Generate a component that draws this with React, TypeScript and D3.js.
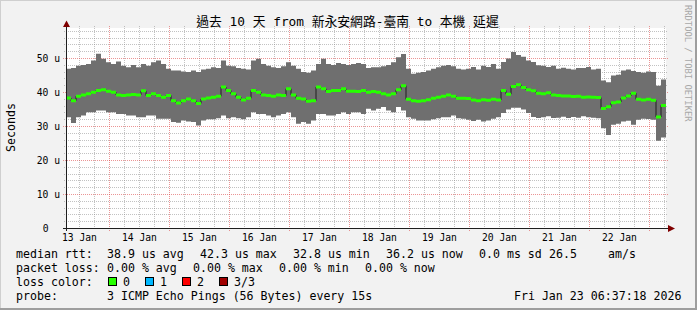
import React from 'react';
import * as d3 from 'd3';

const W = 697;
const H = 310;
const END = Date.UTC(2026, 0, 23, 6, 37, 18);
const START = END - 10 * 86400000;
const STEP = 2 * 3600000;

// smoke upper edge (max of pings), microseconds
const smokeMax = [
  47.0, 47.2, 47.9, 48.1, 48.4, 49.4, 51.4, 49.9, 48.9, 48.4, 49.1, 47.9, 47.4, 48.1, 47.4, 48.4, 47.9, 48.9, 49.4, 48.4,
  47.0, 46.5, 46.5, 46.2, 46.0, 46.5, 46.0, 46.8, 47.0, 47.4, 47.2, 49.4, 47.9, 47.7, 47.2, 47.0, 46.8, 49.4, 49.9, 48.4,
  47.9, 47.4, 47.2, 47.7, 48.9, 47.9, 47.0, 46.0, 45.8, 46.5, 48.4, 49.9, 48.4, 48.1, 48.7, 48.4, 48.1, 48.4, 48.7, 48.4,
  47.2, 47.4, 47.4, 47.7, 48.1, 48.9, 50.4, 51.3, 47.0, 45.5, 45.8, 46.0, 46.5, 47.0, 47.4, 47.9, 48.1, 47.7, 47.0, 46.8,
  47.0, 47.5, 46.8, 47.9, 47.5, 48.4, 47.0, 49.0, 50.0, 51.9, 51.0, 50.5, 49.4, 49.0, 48.0, 47.9, 47.5, 47.9, 47.0, 47.3,
  47.0, 46.8, 47.2, 47.2, 47.5, 46.8, 47.0, 43.5, 43.0, 45.0, 45.2, 46.5, 46.8, 46.3, 46.0, 45.8, 46.2, 46.0, 42.0, 43.8,
];

// smoke lower edge (min of pings)
const smokeMin = [
  32.7, 31.0, 32.7, 33.2, 34.2, 34.2, 34.7, 34.7, 34.2, 34.2, 33.7, 33.7, 33.2, 33.2, 32.7, 32.7, 33.2, 33.2, 32.3, 32.3,
  32.3, 31.3, 31.1, 31.8, 31.5, 31.3, 30.3, 31.8, 32.1, 32.1, 32.4, 33.2, 32.4, 32.7, 32.4, 32.1, 32.7, 34.2, 33.7, 33.7,
  33.2, 32.7, 33.2, 33.7, 34.2, 32.7, 30.8, 31.3, 30.8, 31.8, 33.7, 33.7, 33.2, 33.2, 33.7, 34.2, 33.7, 34.2, 34.2, 33.7,
  35.2, 34.7, 35.2, 35.7, 34.7, 34.2, 35.7, 34.7, 32.7, 32.3, 31.8, 31.8, 31.8, 32.1, 32.4, 32.7, 32.7, 33.2, 32.4, 32.3,
  32.0, 31.6, 32.0, 31.5, 31.8, 32.3, 32.7, 34.0, 35.0, 35.5, 35.5, 35.0, 34.0, 32.8, 32.5, 32.7, 33.0, 32.5, 32.6, 32.9,
  32.5, 32.8, 32.6, 33.0, 32.7, 32.6, 32.4, 29.5, 27.5, 30.5, 30.8, 31.5, 31.7, 30.5, 32.0, 32.3, 32.2, 32.0, 25.8, 26.8,
];

// median rtt
const medianRtt = [
  38.4, 37.6, 38.9, 39.3, 39.6, 40.1, 40.6, 40.8, 40.4, 40.1, 39.3, 39.1, 39.3, 39.4, 39.3, 40.5, 39.1, 39.6, 39.1, 38.6,
  39.1, 37.6, 36.9, 37.6, 38.1, 37.6, 36.8, 38.1, 38.4, 38.6, 38.9, 41.6, 40.6, 39.6, 38.6, 37.8, 38.3, 40.6, 40.1, 39.3,
  39.1, 38.9, 39.3, 39.1, 41.1, 39.3, 38.3, 38.1, 37.4, 37.6, 41.6, 41.1, 40.3, 40.6, 40.6, 41.1, 40.4, 40.4, 40.3, 40.6,
  40.1, 40.3, 40.1, 39.6, 39.3, 39.6, 40.8, 42.0, 38.0, 37.6, 37.4, 37.6, 37.9, 38.3, 38.6, 38.9, 39.3, 38.9, 38.3, 38.3,
  38.2, 37.8, 37.6, 37.9, 37.7, 38.0, 37.8, 40.6, 39.5, 41.8, 42.3, 41.5, 40.8, 40.5, 39.8, 39.6, 39.9, 39.3, 39.1, 39.0,
  39.0, 38.8, 38.9, 38.6, 38.7, 38.6, 38.5, 35.3, 35.8, 37.0, 37.2, 38.4, 39.0, 39.8, 38.0, 37.8, 38.0, 37.7, 32.8, 36.2,
];

const yTickValues = [0, 10, 20, 30, 40, 50];
const yTickLabels = ['0', '10 u', '20 u', '30 u', '40 u', '50 u'];
const dayLabels = ['13 Jan', '14 Jan', '15 Jan', '16 Jan', '17 Jan', '18 Jan', '19 Jan', '20 Jan', '21 Jan', '22 Jan'];

const title = '過去 10 天 from 新永安網路-臺南 to 本機 延遲';

const legendRow1 = [
  ['median rtt:', 16], ['38.9 us avg', 107], ['42.3 us max', 200], ['32.8 us min', 293],
  ['36.2 us now', 386], ['0.0 ms sd', 479], ['26.5', 549], ['am/s', 608],
] as [string, number][];
const legendRow2 = [
  ['packet loss:', 16], ['0.00 % avg', 107], ['0.00 % max', 193], ['0.00 % min', 279], ['0.00 % now', 365],
] as [string, number][];
const lossLabels = ['0', '1', '2', '3/3'];
const lossColors = ['#26ff00', '#00b8ff', '#ff0000', '#a00000'];
const lossBoxX = [108.5, 145.5, 182.5, 219.5];
const lossTextX = [123, 160, 197, 234];

const MONO = "'DejaVu Sans Mono', 'Noto Sans CJK TC', monospace";

export default function App() {
  const xs = d3.scaleTime().domain([new Date(START), new Date(END)]).range([66, 666]);
  const ys = d3.scaleLinear().domain([0, 200 / 3.4]).range([228.5, 28.5]);

  const pts = medianRtt.map((m, i) => ({ t: new Date(START + i * STEP), lo: smokeMin[i], hi: smokeMax[i], m }));
  const last = pts[pts.length - 1];
  const ptsExt = [...pts, { ...last, t: new Date(END) }];

  const smokeArea = d3.area<any>().x((d) => xs(d.t)).y0((d) => ys(d.lo)).y1((d) => ys(d.hi)).curve(d3.curveStepAfter);
  const medLine = d3.line<any>().x((d) => xs(d.t)).y((d) => ys(d.m)).curve(d3.curveStepAfter);
  const greenArea = d3.area<any>().x((d) => xs(d.t)).y0((d) => ys(d.m) + 1.5).y1((d) => ys(d.m) - 1.5).curve(d3.curveStepAfter);

  // grid
  const minorH = d3.range(2, 59, 2).filter((v) => v % 10 !== 0);
  const majorH = yTickValues.filter((v) => v > 0);
  const sixH = d3.utcHour.every(6)!.range(new Date(START), new Date(END));
  const minorV = sixH.filter((d) => d.getUTCHours() !== 0);
  const majorV = sixH.filter((d) => d.getUTCHours() === 0);
  const noon = dayLabels.map((_, i) => new Date(Date.UTC(2026, 0, 13 + i, 12)));
  const px = (v: number) => Math.floor(v) + 0.5;

  return (
    <svg width={W} height={H} style={{ position: 'absolute', left: 0, top: 0, display: 'block' }} fontFamily={MONO}>
      <rect x={0} y={0} width={W} height={H} fill="#f2f2f2" />
      <line x1={0} y1={0.5} x2={W} y2={0.5} stroke="#cfcfcf" />
      <line x1={0.5} y1={0} x2={0.5} y2={H} stroke="#cfcfcf" />
      <line x1={0} y1={H - 1} x2={W} y2={H - 1} stroke="#9e9e9e" strokeWidth={2} />
      <line x1={W - 1} y1={0} x2={W - 1} y2={H} stroke="#9e9e9e" strokeWidth={2} />
      <rect x={66} y={28} width={600} height={200} fill="#ffffff" />

      {minorH.map((v) => (
        <line key={'mh' + v} x1={64} x2={668} y1={px(ys(v))} y2={px(ys(v))} stroke="rgba(143,143,143,0.55)" strokeDasharray="1,1" />
      ))}
      {minorV.map((d, i) => (
        <line key={'mv' + i} x1={px(xs(d))} x2={px(xs(d))} y1={26} y2={230} stroke="rgba(143,143,143,0.55)" strokeDasharray="1,1" />
      ))}
      {majorH.map((v) => (
        <line key={'Mh' + v} x1={63} x2={668} y1={px(ys(v))} y2={px(ys(v))} stroke="rgba(222,79,79,0.6)" strokeDasharray="1,1" />
      ))}
      {majorV.map((d, i) => (
        <line key={'Mv' + i} x1={px(xs(d))} x2={px(xs(d))} y1={26} y2={231} stroke="rgba(222,79,79,0.6)" strokeDasharray="1,1" />
      ))}

      <path d={smokeArea(ptsExt) || ''} fill="#6f6f6f" />
      <path d={medLine(ptsExt) || ''} fill="none" stroke="#202020" strokeWidth={1} />
      <path d={greenArea(ptsExt) || ''} fill={lossColors[0]} />

      {/* axes */}
      <line x1={63} x2={670} y1={228.5} y2={228.5} stroke="#1f1f1f" />
      <line x1={66.5} x2={66.5} y1={231} y2={24} stroke="#1f1f1f" />
      <path d="M668,225 L675,228.5 L668,232 Z" fill="#800000" />
      <path d="M63,27 L66.5,20.5 L70,27 Z" fill="#800000" />

      {yTickValues.map((v, i) => (
        <text key={'yl' + v} x={v === 0 ? 48.5 : 60} y={ys(v) + 3.5} textAnchor="end" fontSize={9.7} fill="#000">
          {yTickLabels[i]}
        </text>
      ))}
      {noon.map((d, i) => (
        <text key={'xl' + i} x={xs(d)} y={241} textAnchor="middle" fontSize={9.7} fill="#000">
          {dayLabels[i]}
        </text>
      ))}

      <text x={347.5} y={26} textAnchor="middle" fontSize={12.8} fill="#000">{title}</text>
      <text transform="translate(15,127.5) rotate(-90)" textAnchor="middle" fontSize={11.6} fill="#000">Seconds</text>
      <text transform="translate(685,5) rotate(90)" fontSize={8.8} fill="#a8a8a8">RRDTOOL / TOBI OETIKER</text>

      {legendRow1.map(([s, x], i) => (
        <text key={'r1' + i} x={x} y={258} fontSize={11.6} fill="#000" style={{ whiteSpace: 'pre' }}>{s}</text>
      ))}
      {legendRow2.map(([s, x], i) => (
        <text key={'r2' + i} x={x} y={272} fontSize={11.6} fill="#000" style={{ whiteSpace: 'pre' }}>{s}</text>
      ))}
      <text x={16} y={286} fontSize={11.6} fill="#000">loss color:</text>
      {lossLabels.map((s, i) => (
        <g key={'lc' + i}>
          <rect x={lossBoxX[i]} y={277.5} width={8} height={8} fill={lossColors[i]} stroke="#000" />
          <text x={lossTextX[i]} y={286} fontSize={11.6} fill="#000">{s}</text>
        </g>
      ))}
      <text x={16} y={300} fontSize={11.6} fill="#000">probe:</text>
      <text x={107} y={300} fontSize={11.6} fill="#000" style={{ whiteSpace: 'pre' }}>3 ICMP Echo Pings (56 Bytes) every 15s</text>
      <text x={681.5} y={300} textAnchor="end" fontSize={11.6} fill="#000">Fri Jan 23 06:37:18 2026</text>
    </svg>
  );
}
